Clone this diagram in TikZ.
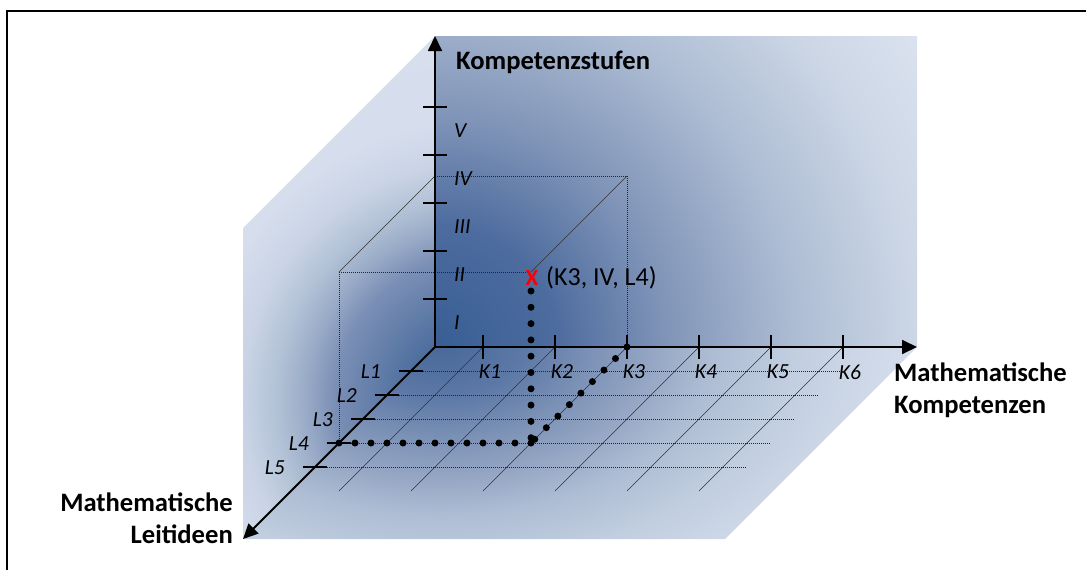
\documentclass[tikz,border=0pt]{standalone}
\usepackage{fontspec}
\setmainfont{Carlito}
\usetikzlibrary{arrows.meta}

% shading scale: 25bp = half side of the shaded rectangle
\pgfdeclareradialshading{backwall}{\pgfpoint{0bp}{0bp}}{rgb(0bp)=(0.22,0.37,0.58); rgb(6.1bp)=(0.30,0.42,0.62); rgb(11.6bp)=(0.50,0.58,0.72); rgb(18.2bp)=(0.68,0.74,0.83); rgb(24.2bp)=(0.80,0.84,0.90); rgb(29.3bp)=(0.86,0.89,0.94); rgb(50bp)=(0.86,0.89,0.94)}
\pgfdeclareradialshading{leftwall}{\pgfpoint{0bp}{0bp}}{rgb(0bp)=(0.20,0.34,0.56); rgb(4.8bp)=(0.30,0.43,0.62); rgb(9.8bp)=(0.48,0.56,0.71); rgb(11.8bp)=(0.60,0.67,0.78); rgb(13.8bp)=(0.70,0.76,0.84); rgb(16.1bp)=(0.79,0.83,0.90); rgb(19bp)=(0.84,0.87,0.93); rgb(50bp)=(0.85,0.88,0.93)}
\pgfdeclareradialshading{floorwall}{\pgfpoint{0bp}{0bp}}{rgb(0bp)=(0.28,0.41,0.60); rgb(4.1bp)=(0.36,0.47,0.65); rgb(6.8bp)=(0.46,0.55,0.70); rgb(10.2bp)=(0.57,0.64,0.76); rgb(13.6bp)=(0.68,0.74,0.83); rgb(17.7bp)=(0.76,0.81,0.88); rgb(23.8bp)=(0.84,0.87,0.93); rgb(50bp)=(0.85,0.88,0.93)}

\tikzset{
  axisline/.style={line width=1.8pt, -{Triangle[length=15pt,width=14pt]}},
  axtick/.style={line width=1.6pt},
  gridline/.style={line width=0.55pt, black!80},
  thindots/.style={line width=0.7pt, dash pattern=on 1pt off 1pt, black!85},
  bigdots/.style={line width=7pt, line cap=round, dash pattern=on 0pt off #1},
  bigdots/.default=16pt,
  lbl/.style={font=\fontsize{21.5}{25}\selectfont\itshape, inner sep=0pt},
  titletext/.style={font=\fontsize{26.6}{32.5}\selectfont\bfseries, inner sep=0pt},
}

\begin{document}
\begin{tikzpicture}[x=1pt,y=-1pt]
\useasboundingbox (0,0) rectangle (1086,570);

% frame (top and left edges)
\draw[line width=2.2pt] (7,570) -- (7,11) -- (1086,11);

% key points
\coordinate (O) at (435,347);
\coordinate (Ztip) at (435,36);
\coordinate (Ktip) at (917,347);
\coordinate (Ltip) at (243,539);

% shaded faces
\begin{scope}
  \clip (435,36) -- (917,36) -- (917,347) -- (435,347) -- cycle;
  \shade[shading=backwall] (-60,-148) rectangle (930,842);
\end{scope}
\begin{scope}
  \clip (435,36) -- (435,347) -- (243,539) -- (243,228) -- cycle;
  \shade[shading=leftwall] (110,30) rectangle (850,770);
\end{scope}
\begin{scope}
  \clip (435,347) -- (917,347) -- (725,539) -- (243,539) -- cycle;
  \shade[shading=floorwall] (-60,33) rectangle (940,657);
\end{scope}

% floor grid: diagonals from K ticks
\foreach \i in {1,...,6} {
  \pgfmathsetmacro{\kx}{483+72*(\i-1)}
  \coordinate (kg\i a) at (\kx,347);
  \coordinate (kg\i b) at (\kx-144,491);
  \draw[gridline] (kg\i a) -- (kg\i b);
}
% floor grid: horizontals from L ticks
\foreach \i in {1,...,5} {
  \pgfmathsetmacro{\d}{24*\i}
  \coordinate (lg\i a) at (435-\d,347+\d);
  \coordinate (lg\i b) at (867-\d,347+\d);
  \draw[thindots] (lg\i a) -- (lg\i b);
}

% cube
\coordinate (cb1) at (435,176);
\coordinate (cb2) at (627,176);
\coordinate (cf1) at (339,272);
\coordinate (cf2) at (531,272);
\coordinate (K3) at (627,347);
\coordinate (L4) at (339,443);
\coordinate (C) at (531,443);
\coordinate (Xlow) at (531,291);
\draw[thindots] (cb1) -- (cb2);
\draw[thindots] (cb2) -- (K3);
\draw[thindots] (cf1) -- (cf2);
\draw[thindots] (cf1) -- (L4);
\draw[gridline] (cb1) -- (cf1);
\draw[gridline] (cb2) -- (cf2);

% axes
\draw[axisline] (O) -- (Ztip);
\draw[axisline] (O) -- (Ktip);
\draw[axisline] (O) -- (Ltip);

% vertical ticks and level labels
\foreach \y in {107,155,203,251,299} {
  \coordinate (zta) at (423,\y);
  \coordinate (ztb) at (447,\y);
  \draw[axtick] (zta) -- (ztb);
}
\node[lbl, anchor=west] (lvV) at (454,131) {V};
\node[lbl, anchor=west] (lvIV) at (454,179) {IV};
\node[lbl, anchor=west] (lvIII) at (454,227) {III};
\node[lbl, anchor=west] (lvII) at (454,275) {II};
\node[lbl, anchor=west] (lvI) at (454,323) {I};

% K ticks and labels
\foreach \i in {1,...,6} {
  \pgfmathsetmacro{\kx}{483+72*(\i-1)}
  \coordinate (kta) at (\kx,335);
  \coordinate (ktb) at (\kx,359);
  \draw[axtick] (kta) -- (ktb);
  \node[lbl] (K\i lab) at (\kx+7,372) {K\i};
}

% L ticks and labels
\foreach \i in {1,...,5} {
  \pgfmathsetmacro{\d}{24*\i}
  \coordinate (lta) at (423-\d,347+\d);
  \coordinate (ltb) at (447-\d,347+\d);
  \draw[axtick] (lta) -- (ltb);
  \node[lbl, anchor=east] (L\i lab) at (405-\d,348+\d) {L\i};
}

% path to the point
\draw[bigdots=16pt] (L4) -- (C);
\draw[bigdots=16.3pt] (K3) -- (C);
\draw[bigdots=16.3pt] (Xlow) -- (C);

\node[font=\fontsize{23}{27}\selectfont\bfseries, text=red, inner sep=0pt] (xm) at (532,278) {X};
\node[font=\fontsize{26}{30}\selectfont, anchor=west, inner sep=0pt] (ptlab) at (546,278) {(K3, IV, L4)};

% axis titles
\node[titletext, anchor=west] (kst) at (456,62) {Kompetenzstufen};
\node[titletext, anchor=west, align=left] (mk) at (894,390) {Mathematische\\Kompetenzen};
\node[titletext, anchor=east, align=right] (ml) at (233,518) {Mathematische\\Leitideen};
\end{tikzpicture}
\end{document}
